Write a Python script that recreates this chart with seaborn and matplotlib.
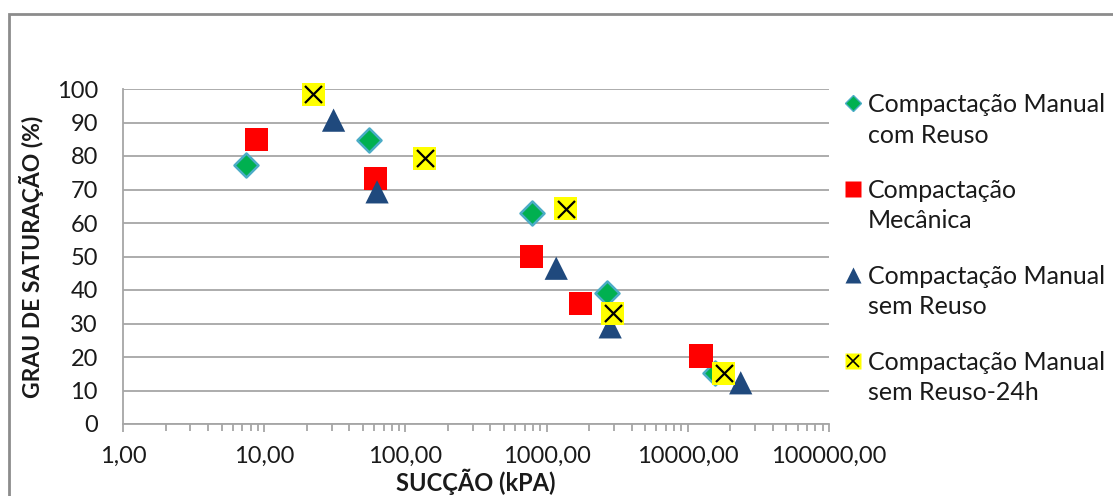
import matplotlib
matplotlib.use("Agg")
import matplotlib.pyplot as plt
import matplotlib.patches as mpatches
from matplotlib.lines import Line2D
from matplotlib.legend_handler import HandlerTuple, HandlerLine2D
from matplotlib.ticker import LogLocator, FuncFormatter, NullFormatter
import seaborn as sns
import pandas as pd

# ---- data ----
series_names = ["Compactação Manual\ncom Reuso",
                "Compactação\nMecânica",
                "Compactação Manual\nsem Reuso",
                "Compactação Manual\nsem Reuso-24h"]

com_reuso_x = [7.4, 55, 790, 2680, 15500]
com_reuso_y = [77.3, 84.8, 63.0, 39.1, 15.2]

mecanica_x = [8.8, 61, 780, 1730, 12400]
mecanica_y = [84.8, 73.4, 49.9, 36.1, 20.3]

sem_reuso_x = [31, 63, 1170, 2820, 23700]
sem_reuso_y = [90.7, 69.3, 46.5, 29.0, 12.3]

sem_reuso24_x = [22.2, 137, 1370, 2950, 18000]
sem_reuso24_y = [98.5, 79.3, 64.2, 33.1, 15.2]

y_ticks = [0, 10, 20, 30, 40, 50, 60, 70, 80, 90, 100]
x_ticks = [1, 10, 100, 1000, 10000, 100000]

x_label = "SUCÇÃO (kPA)"
y_label = "GRAU DE SATURAÇÃO (%)"

df = pd.concat([
    pd.DataFrame({"x": com_reuso_x, "y": com_reuso_y, "serie": series_names[0]}),
    pd.DataFrame({"x": mecanica_x, "y": mecanica_y, "serie": series_names[1]}),
    pd.DataFrame({"x": sem_reuso_x, "y": sem_reuso_y, "serie": series_names[2]}),
    pd.DataFrame({"x": sem_reuso24_x, "y": sem_reuso24_y, "serie": series_names[3]}),
], ignore_index=True)

sns.set_theme(style="white")
plt.rcParams["font.family"] = ["Lato", "DejaVu Sans"]

GREEN = "#00B050"
LBLUE = "#4BACC6"
RED = "#FF0000"
NAVY = "#1F497D"
YELLOW = "#FFFF00"
GRID = "#A6A6A6"
TXT = "#1A1A1A"

fig = plt.figure(figsize=(11.13, 4.96), dpi=100)
ax = fig.add_axes([123 / 1113, 1 - 424 / 496, (829 - 123) / 1113, (424 - 89) / 496])

ax.set_xscale("log")

common = dict(ax=ax, x="x", y="y", legend=False, clip_on=False)
sns.scatterplot(data=df[df.serie == series_names[0]], marker="D", s=150,
                color=GREEN, edgecolor=LBLUE, linewidth=1.8, zorder=3, **common)
sns.scatterplot(data=df[df.serie == series_names[1]], marker="s", s=275,
                color=RED, edgecolor="none", linewidth=0, zorder=3, **common)
sns.scatterplot(data=df[df.serie == series_names[2]], marker="^", s=280,
                color=NAVY, edgecolor="none", linewidth=0, zorder=3, **common)
sns.scatterplot(data=df[df.serie == series_names[3]], marker="s", s=275,
                color=YELLOW, edgecolor="none", linewidth=0, zorder=3, **common)
sns.scatterplot(data=df[df.serie == series_names[3]], marker="x", s=150,
                color="black", linewidth=1.6, zorder=4, **common)

ax.set_xlim(1, 100000)
ax.set_ylim(0, 100)
ax.set_yticks(y_ticks)
ax.set_xticks(x_ticks)
ax.xaxis.set_minor_locator(LogLocator(base=10, subs=range(2, 10)))
ax.xaxis.set_minor_formatter(NullFormatter())
ax.xaxis.set_major_formatter(FuncFormatter(lambda v, p: f"{v:.2f}".replace(".", ",")))

ax.grid(axis="y", color=GRID, linewidth=1.3)
ax.grid(axis="x", visible=False)
ax.set_axisbelow(True)
for s in ["top", "right"]:
    ax.spines[s].set_visible(False)
for s in ["left", "bottom"]:
    ax.spines[s].set_color(GRID)
    ax.spines[s].set_linewidth(1.3)

ax.tick_params(axis="y", length=0, pad=18, labelsize=17, labelcolor=TXT)
ax.tick_params(axis="x", which="major", direction="out", length=6, width=1.3,
               color=GRID, pad=10, labelsize=17, labelcolor=TXT, bottom=True)
ax.tick_params(axis="x", which="minor", direction="out", length=5, width=1.3,
               color=GRID, bottom=True)

ax.set_xlabel(x_label, fontsize=17, fontweight="bold", color=TXT, labelpad=1)
ax.set_ylabel(y_label, fontsize=16.5, fontweight="bold", color=TXT, labelpad=9)


# legend: marker aligned with the first line of each two-line label
class UpHandler(HandlerLine2D):
    shift = 12.6  # points

    def create_artists(self, legend, orig_handle, xdescent, ydescent,
                       width, height, fontsize, trans):
        return super().create_artists(legend, orig_handle, xdescent,
                                      ydescent - 2 * self.shift, width, height,
                                      fontsize, trans)


h0 = Line2D([], [], marker="D", linestyle="none", markersize=8.5,
            markerfacecolor=GREEN, markeredgecolor=LBLUE, markeredgewidth=1)
h1 = Line2D([], [], marker="s", linestyle="none", markersize=11.5,
            markerfacecolor=RED, markeredgecolor="none")
h2 = Line2D([], [], marker="^", linestyle="none", markersize=12,
            markerfacecolor=NAVY, markeredgecolor="none")
h3a = Line2D([], [], marker="s", linestyle="none", markersize=11.5,
             markerfacecolor=YELLOW, markeredgecolor="none")
h3b = Line2D([], [], marker="x", linestyle="none", markersize=9,
             markeredgecolor="black", markeredgewidth=1.2)
leg = fig.legend([h0, h1, h2, (h3a, h3b)], series_names,
                 handler_map={Line2D: UpHandler(), tuple: HandlerTuple(ndivide=1)},
                 loc="upper left", bbox_to_anchor=(843 / 1113, 1 - 93 / 496),
                 frameon=False, fontsize=18, handlelength=0.8, handletextpad=0.2,
                 labelspacing=1.29, borderaxespad=0, borderpad=0)
for t in leg.get_texts():
    t.set_color(TXT)
    t.set_linespacing(1.4)

# outer chart frame
fig.patches.append(mpatches.Rectangle((9 / 1113, -0.2), 1.5, 1 - 14 / 496 + 0.2,
                                      transform=fig.transFigure, fill=False,
                                      edgecolor="#8C8C8C", linewidth=2))

fig.savefig("out.png", dpi=100)
